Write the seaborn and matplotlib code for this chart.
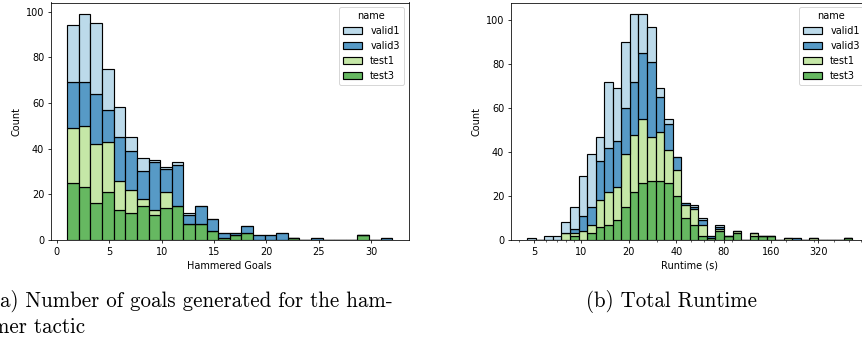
import numpy as np
import pandas as pd
import seaborn as sns
import matplotlib
import matplotlib.pyplot as plt
from matplotlib.ticker import FixedLocator, FixedFormatter, NullFormatter

matplotlib.use("Agg")

#%% data (counts per bin)
names = ["valid1", "valid3", "test1", "test3"]

# hammered goals: 28 bins between 1 and 32
goals_range = (1, 32)
goals_nbins = 28
goals_valid1 = [25, 30, 31, 18, 13, 6, 6, 1, 1, 1, 1, 0, 0, 0, 0, 0, 0, 0, 0, 0, 0, 0, 0, 0, 0, 0, 0, 0]
goals_valid3 = [20, 19, 22, 14, 19, 17, 12, 21, 10, 18, 4, 8, 5, 2, 1, 3, 2, 2, 3, 0, 0, 1, 0, 0, 0, 0, 0, 1]
goals_test1 = [24, 27, 26, 22, 13, 10, 3, 2, 7, 0, 0, 0, 0, 0, 0, 0, 0, 0, 0, 0, 0, 0, 0, 0, 0, 0, 0, 0]
goals_test3 = [25, 23, 16, 21, 13, 12, 15, 11, 14, 15, 7, 7, 4, 1, 2, 3, 0, 0, 0, 1, 0, 0, 0, 0, 0, 2, 0, 0]

# runtime (s): 38 log-spaced bins
runtime_range = (4.53, 525)
runtime_nbins = 38
runtime_valid1 = [1, 0, 2, 2, 5, 10, 18, 24, 11, 30, 24, 30, 31, 18, 16, 4, 2, 0, 0, 1, 1, 0, 1,
                  0, 0, 0, 0, 0, 0, 0, 0, 0, 0, 0, 0, 0, 0, 0]
runtime_valid3 = [0, 0, 0, 0, 0, 2, 7, 8, 18, 20, 21, 21, 24, 30, 34, 16, 12, 6, 1, 1, 2, 1, 1,
                  0, 0, 0, 0, 0, 0, 0, 0, 1, 0, 0, 0, 0, 0, 0]
runtime_test1 = [0, 0, 0, 0, 3, 1, 4, 4, 12, 15, 15, 24, 26, 29, 20, 22, 15, 12, 6, 7, 5, 0, 1,
                 0, 1, 0, 1, 0, 0, 0, 1, 0, 0, 1, 0, 0, 0, 0]
runtime_test3 = [0, 0, 0, 0, 0, 2, 0, 3, 6, 7, 9, 15, 22, 26, 27, 27, 26, 20, 10, 7, 2, 1, 4,
                 2, 3, 0, 2, 2, 2, 0, 0, 0, 0, 0, 0, 0, 0, 1]
runtime_ticks = [5, 10, 20, 40, 80, 160, 320]

caption_a = ["(a) Number of goals generated for the ham-", "mer tactic"]
caption_b = "(b) Total Runtime"

colors = sns.color_palette("Paired", 4)


def make_frame(centers, series):
    rows = []
    for name, counts in zip(names, series):
        rows.append(pd.DataFrame({"value": centers, "count": counts, "name": name}))
    return pd.concat(rows, ignore_index=True)


goals_edges = np.linspace(*goals_range, goals_nbins + 1)
goals_df = make_frame((goals_edges[:-1] + goals_edges[1:]) / 2,
                      [goals_valid1, goals_valid3, goals_test1, goals_test3])

runtime_edges = np.geomspace(*runtime_range, runtime_nbins + 1)
runtime_df = make_frame(np.sqrt(runtime_edges[:-1] * runtime_edges[1:]),
                        [runtime_valid1, runtime_valid3, runtime_test1, runtime_test3])

#%% figure
W, H, dpi = 862, 345, 70
fig = plt.figure(figsize=(W / dpi, H / dpi), dpi=dpi)
ax1 = fig.add_axes([51 / W, 105 / H, 357.5 / W, 237.5 / H])
ax2 = fig.add_axes([511 / W, 105 / H, 357.5 / W, 237.5 / H])

sns.histplot(data=goals_df, x="value", weights="count", hue="name", hue_order=names,
             multiple="stack", bins=list(goals_edges), palette=colors, linewidth=1.2, ax=ax1)
ax1.set_xlabel("Hammered Goals")

sns.histplot(data=runtime_df, x="value", weights="count", hue="name", hue_order=names,
             multiple="stack", bins=list(runtime_edges), palette=colors, linewidth=1.2, ax=ax2)
ax2.set_xscale("log")
ax2.xaxis.set_major_locator(FixedLocator(runtime_ticks))
ax2.xaxis.set_major_formatter(FixedFormatter([str(t) for t in runtime_ticks]))
ax2.xaxis.set_minor_formatter(NullFormatter())
ax2.set_xlabel("Runtime (s)")

for ax in (ax1, ax2):
    sns.move_legend(ax, "upper right")

# subfigure captions (the "(" of (a) is clipped at the page edge in the original)
cap_font = dict(family="cmr10", fontsize=21.5)
fig.text(-8.5 / W, 1 - 307 / H, caption_a[0], ha="left", va="baseline", **cap_font)
fig.text(-8.5 / W, 1 - 333 / H, caption_a[1], ha="left", va="baseline", **cap_font)
fig.text(672 / W, 1 - 307 / H, caption_b, ha="center", va="baseline", **cap_font)

fig.savefig("out.png", dpi=dpi)
